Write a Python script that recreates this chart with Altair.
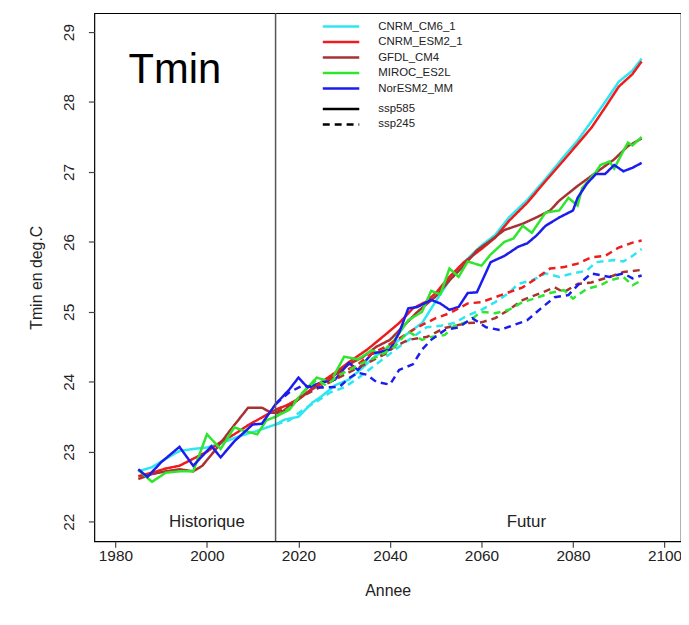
import altair as alt
import pandas as pd

models = ["CNRM_CM6_1", "CNRM_ESM2_1", "GFDL_CM4", "MIROC_ES2L", "NorESM2_MM"]
colors = ["#2EE6F0", "#EE1C1C", "#A83232", "#2EE62E", "#1C1CEE"]
scenarios = ["ssp585", "ssp245"]

# ---- ssp585 (solid), historical + future ----
cm6_585_x = [1985, 1988, 1991, 1994, 1997, 2000, 2003, 2007, 2011, 2015, 2017, 2020, 2023, 2025, 2028, 2031,
             2034, 2037, 2040, 2043, 2047, 2050, 2053, 2056, 2060, 2063, 2066, 2070, 2074, 2078, 2081, 2084,
             2087, 2090, 2093, 2095]
cm6_585_y = [22.72, 22.78, 22.90, 23.01, 23.04, 23.06, 23.12, 23.22, 23.30, 23.39, 23.46, 23.50, 23.70, 23.79,
             23.95, 24.03, 24.20, 24.38, 24.50, 24.65, 24.84, 25.15, 25.45, 25.70, 25.95, 26.10, 26.35, 26.60,
             26.90, 27.22, 27.45, 27.72, 28.00, 28.29, 28.45, 28.62]

esm2_585_x = [1985, 1988, 1991, 1994, 1997, 2000, 2003, 2006, 2009, 2012, 2015, 2018, 2021, 2024, 2028, 2031,
              2035, 2038, 2042, 2045, 2048, 2050, 2053, 2056, 2060, 2063, 2066, 2070, 2074, 2078, 2081, 2084,
              2087, 2090, 2093, 2095]
esm2_585_y = [22.65, 22.70, 22.76, 22.80, 22.90, 23.00, 23.14, 23.25, 23.38, 23.49, 23.60, 23.68, 23.80, 23.95,
              24.13, 24.28, 24.46, 24.62, 24.84, 25.05, 25.15, 25.27, 25.50, 25.70, 25.90, 26.06, 26.30, 26.56,
              26.87, 27.17, 27.40, 27.63, 27.92, 28.22, 28.40, 28.58]

gfdl_585_x = [1985, 1988, 1991, 1994, 1997, 1999, 2002, 2005, 2009, 2012, 2014, 2016, 2019, 2022, 2025, 2028,
              2031, 2034, 2037, 2040, 2043, 2046, 2050, 2053, 2056, 2059, 2062, 2065, 2069, 2072, 2075, 2077,
              2081, 2085, 2089, 2092, 2095]
gfdl_585_y = [22.61, 22.68, 22.72, 22.75, 22.72, 22.80, 23.04, 23.30, 23.63, 23.63, 23.56, 23.55, 23.70, 23.85,
              23.98, 24.10, 24.25, 24.35, 24.50, 24.60, 24.80, 25.00, 25.22, 25.45, 25.65, 25.88, 26.02, 26.17,
              26.26, 26.35, 26.45, 26.59, 26.80, 26.99, 27.18, 27.37, 27.48]

miroc_585_x = [1985, 1988, 1991, 1994, 1997, 2000, 2003, 2006, 2008, 2011, 2013, 2015, 2018, 2021, 2024, 2027,
               2030, 2033, 2036, 2038, 2041, 2044, 2047, 2049, 2051, 2053, 2055, 2057, 2060, 2062, 2065, 2067,
               2069, 2071, 2074, 2077, 2079, 2081, 2082, 2085, 2086, 2088, 2089, 2091, 2092, 2093, 2095]
miroc_585_y = [22.74, 22.57, 22.70, 22.72, 22.72, 23.25, 23.04, 23.35, 23.30, 23.25, 23.45, 23.50, 23.60, 23.85,
               24.06, 24.00, 24.36, 24.32, 24.45, 24.40, 24.60, 24.88, 25.00, 25.30, 25.25, 25.62, 25.50, 25.72,
               25.66, 25.82, 26.00, 26.05, 26.23, 26.13, 26.42, 26.45, 26.63, 26.52, 26.77, 27.00, 27.10, 27.15,
               27.05, 27.30, 27.42, 27.38, 27.50]

nor_585_x = [1985, 1987, 1990, 1994, 1997, 2001, 2003, 2006, 2010, 2012, 2015, 2018, 2020, 2022, 2025, 2028,
             2031, 2033, 2036, 2040, 2042, 2044, 2046, 2049, 2051, 2053, 2055, 2057, 2059, 2062, 2065, 2068,
             2070, 2072, 2074, 2077, 2080, 2081, 2083, 2085, 2087, 2089, 2091, 2093, 2095]
nor_585_y = [22.75, 22.64, 22.85, 23.07, 22.80, 23.08, 22.92, 23.15, 23.39, 23.40, 23.68, 23.89, 24.06, 23.92,
             23.99, 24.03, 24.27, 24.17, 24.40, 24.46, 24.70, 25.05, 25.07, 25.17, 25.12, 25.03, 25.07, 25.27,
             25.28, 25.71, 25.80, 25.93, 25.98, 26.09, 26.23, 26.35, 26.45, 26.63, 26.83, 26.97, 26.97, 27.10,
             27.01, 27.06, 27.13]

# ---- ssp245 (dashed), future ----
cm6_245_x = [2015, 2018, 2021, 2024, 2027, 2030, 2033, 2036, 2039, 2042, 2045, 2048, 2051, 2054, 2057, 2060,
             2063, 2066, 2068, 2071, 2074, 2077, 2080, 2083, 2085, 2089, 2091, 2093, 2095]
cm6_245_y = [23.39, 23.45, 23.60, 23.72, 23.85, 23.92, 24.05, 24.20, 24.35, 24.50, 24.64, 24.78, 24.80, 24.84,
             24.95, 25.03, 25.14, 25.27, 25.40, 25.45, 25.55, 25.50, 25.55, 25.59, 25.71, 25.74, 25.72, 25.80,
             25.90]

esm2_245_x = [2015, 2018, 2021, 2024, 2027, 2030, 2033, 2036, 2039, 2042, 2046, 2050, 2053, 2057, 2060, 2063,
              2066, 2069, 2072, 2075, 2078, 2081, 2084, 2087, 2090, 2093, 2095]
esm2_245_y = [23.60, 23.68, 23.80, 23.95, 24.05, 24.15, 24.25, 24.40, 24.50, 24.62, 24.78, 24.91, 24.98, 25.12,
              25.14, 25.21, 25.28, 25.35, 25.48, 25.62, 25.64, 25.69, 25.78, 25.80, 25.92, 25.99, 26.02]

gfdl_245_x = [2015, 2018, 2021, 2024, 2027, 2030, 2033, 2036, 2039, 2041, 2044, 2048, 2052, 2054, 2057, 2060,
              2063, 2066, 2069, 2073, 2076, 2078, 2081, 2084, 2088, 2091, 2095]
gfdl_245_y = [23.56, 23.65, 23.80, 23.90, 24.00, 24.10, 24.20, 24.30, 24.40, 24.50, 24.60, 24.64, 24.77, 24.80,
              24.84, 24.85, 24.91, 25.03, 25.17, 25.27, 25.35, 25.28, 25.40, 25.42, 25.50, 25.57, 25.60]

miroc_245_x = [2015, 2018, 2021, 2024, 2026, 2029, 2032, 2035, 2038, 2041, 2044, 2047, 2049, 2052, 2054, 2057,
               2060, 2063, 2066, 2069, 2072, 2075, 2078, 2080, 2083, 2086, 2088, 2091, 2093, 2095]
miroc_245_y = [23.50, 23.62, 23.85, 24.03, 23.95, 24.10, 24.20, 24.30, 24.38, 24.50, 24.72, 24.60, 24.64, 24.67,
               24.80, 24.86, 25.00, 24.98, 25.03, 25.14, 25.20, 25.27, 25.31, 25.19, 25.33, 25.38, 25.45, 25.50,
               25.38, 25.45]

nor_245_x = [2015, 2018, 2021, 2023, 2026, 2029, 2031, 2033, 2035, 2037, 2040, 2042, 2045, 2047, 2049, 2052,
             2055, 2058, 2061, 2064, 2067, 2070, 2073, 2076, 2079, 2081, 2084, 2088, 2091, 2093, 2095]
nor_245_y = [23.68, 23.85, 23.95, 23.92, 23.92, 23.93, 24.05, 24.13, 24.10, 24.00, 23.96, 24.17, 24.25, 24.46,
             24.60, 24.74, 24.78, 24.91, 24.78, 24.74, 24.81, 24.88, 25.05, 25.21, 25.24, 25.38, 25.55, 25.50,
             25.55, 25.48, 25.52]

series = [
    ("CNRM_CM6_1", "ssp585", cm6_585_x, cm6_585_y),
    ("CNRM_ESM2_1", "ssp585", esm2_585_x, esm2_585_y),
    ("GFDL_CM4", "ssp585", gfdl_585_x, gfdl_585_y),
    ("MIROC_ES2L", "ssp585", miroc_585_x, miroc_585_y),
    ("NorESM2_MM", "ssp585", nor_585_x, nor_585_y),
    ("CNRM_CM6_1", "ssp245", cm6_245_x, cm6_245_y),
    ("CNRM_ESM2_1", "ssp245", esm2_245_x, esm2_245_y),
    ("GFDL_CM4", "ssp245", gfdl_245_x, gfdl_245_y),
    ("MIROC_ES2L", "ssp245", miroc_245_x, miroc_245_y),
    ("NorESM2_MM", "ssp245", nor_245_x, nor_245_y),
]

rows = []
for m, s, xs, ys in series:
    for xv, yv in zip(xs, ys):
        rows.append({"model": m, "scenario": s, "annee": xv, "tmin": yv, "serie": m + "_" + s})
df = pd.DataFrame(rows)

X_DOMAIN = [1975.4, 2103.6]
Y_DOMAIN = [21.72, 29.27]
FONT = "Liberation Sans"

xscale = alt.Scale(domain=X_DOMAIN, nice=False, zero=False)
yscale = alt.Scale(domain=Y_DOMAIN, nice=False, zero=False)

legend_common = dict(title=None, orient="none", symbolType="M-3,0H3", symbolSize=150,
                     symbolStrokeWidth=2.5, labelOffset=30, rowPadding=2.6, padding=0,
                     labelFontSize=11.5, labelFont=FONT, labelColor="#222")

lines = alt.Chart(df).mark_line(strokeWidth=2.5, strokeCap="butt").encode(
    x=alt.X("annee:Q", scale=xscale,
            axis=alt.Axis(values=[1980, 2000, 2020, 2040, 2060, 2080, 2100], format="d",
                          title="Annee", titlePadding=19)),
    y=alt.Y("tmin:Q", scale=yscale,
            axis=alt.Axis(values=[22, 23, 24, 25, 26, 27, 28, 29], format="d",
                          title="Tmin en deg.C", labelAngle=-90, labelAlign="center",
                          labelBaseline="bottom", labelPadding=12, titlePadding=17)),
    color=alt.Color("model:N", scale=alt.Scale(domain=models, range=colors),
                    legend=alt.Legend(legendX=241, legendY=6, **legend_common)),
    strokeDash=alt.StrokeDash("scenario:N",
                              scale=alt.Scale(domain=scenarios, range=[[1, 0], [7, 5]]),
                              legend=alt.Legend(legendX=241, legendY=89, symbolStrokeColor="black",
                                                **legend_common)),
    detail="serie:N",
)

split_df = pd.DataFrame({"annee": [2015]})
split = alt.Chart(split_df).mark_rule(color="#555555", strokeWidth=1.5).encode(x=alt.X("annee:Q", scale=xscale))

labels_df = pd.DataFrame({
    "annee": [1993.0, 2000.0, 2069.8],
    "tmin": [28.45, 22.0, 22.0],
    "txt": ["Tmin", "Historique", "Futur"],
})
big = alt.Chart(labels_df.iloc[[0]]).mark_text(font=FONT, fontSize=42, color="black",
                                              align="center", baseline="middle").encode(
    x=alt.X("annee:Q", scale=xscale), y=alt.Y("tmin:Q", scale=yscale), text="txt:N")
small = alt.Chart(labels_df.iloc[[1, 2]]).mark_text(font=FONT, fontSize=17, color="#222",
                                                   align="center", baseline="middle").encode(
    x=alt.X("annee:Q", scale=xscale), y=alt.Y("tmin:Q", scale=yscale), text="txt:N")

chart = alt.layer(lines, split, big, small).properties(
    width=591, height=532,
    autosize=alt.AutoSizeParams(type="none"),
    padding={"left": 87, "top": 3, "right": 0, "bottom": 70},
    background="white",
).configure_view(
    stroke="black", strokeWidth=1.2
).configure_axis(
    grid=False, domain=False, tickSize=6, tickColor="#444", tickWidth=1.2,
    labelFont=FONT, labelFontSize=15.5, labelColor="#222",
    titleFont=FONT, titleFontSize=16, titleColor="#222", titleFontWeight="normal",
).configure_axisX(labelPadding=1)

chart.save("out.html", embed_options={"renderer": "svg", "actions": False})
